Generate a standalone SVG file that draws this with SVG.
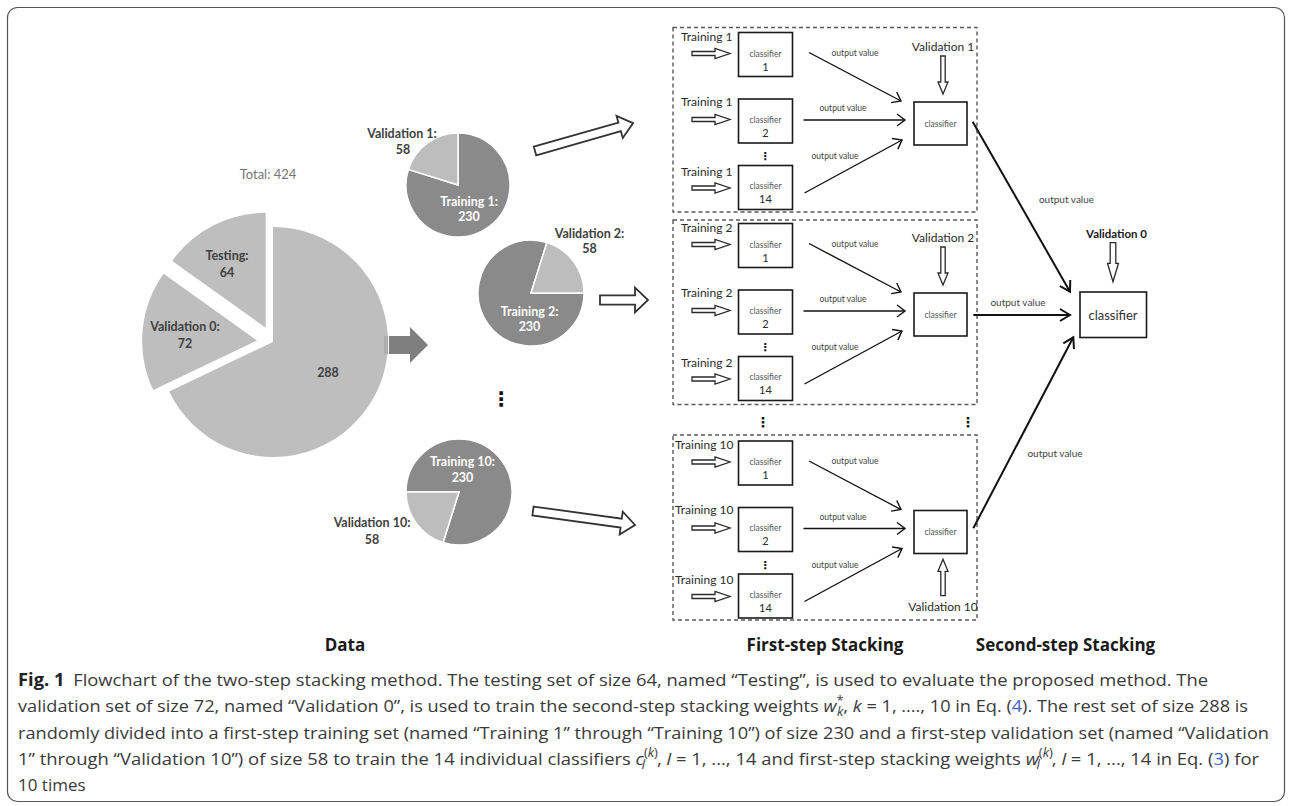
<svg xmlns="http://www.w3.org/2000/svg" width="1292" height="806" viewBox="0 0 1292 806">
<defs>
<style>
.t{font-family:Lato,"Liberation Sans",sans-serif}
.tr{font-size:12px;fill:#2b2b2b}
.cl{font-size:8.5px;fill:#555;text-anchor:middle}
.num{font-size:11px;fill:#2b2b2b;text-anchor:middle}
.ov{font-size:8.5px;fill:#444;text-anchor:middle}
.ov2{font-size:10px;fill:#444;text-anchor:middle}
.val{font-size:12px;fill:#2b2b2b;text-anchor:middle}
.box{fill:#fff;stroke:#1a1a1a;stroke-width:1.6}
.dash{fill:none;stroke:#5a5a5a;stroke-width:1.4;stroke-dasharray:4 3}
.ha{fill:#fff;stroke:#2a2a2a;stroke-width:1.3}
.hb{fill:#fff;stroke:#333;stroke-width:1.8}
.ln{fill:none;stroke:#111;stroke-width:1.4;marker-end:url(#v1)}
.ln2{fill:none;stroke:#111;stroke-width:2;marker-end:url(#v2)}
.pl{font-family:Lato,"Liberation Sans",sans-serif;font-weight:bold;font-size:12.5px;text-anchor:middle;fill:#404040}
.pw{font-family:Lato,"Liberation Sans",sans-serif;font-weight:bold;font-size:12.5px;text-anchor:middle;fill:#fff}
.dots{font-family:"DejaVu Sans",sans-serif;font-weight:bold;text-anchor:middle;fill:#111}
.cap{font-family:"Open Sans","Liberation Sans",sans-serif;font-size:17px;fill:#3a3a3a}
.hd{font-family:"Open Sans","Liberation Sans",sans-serif;font-size:17px;font-weight:bold;fill:#1a1a1a;text-anchor:middle}
.lt{fill:#bdbdbd;stroke:#fff;stroke-width:1.5}
.dk{fill:#8a8a8a;stroke:#fff;stroke-width:1.5}
</style>
<marker id="v1" markerUnits="userSpaceOnUse" viewBox="-10 -8 12 16" refX="0" refY="0" markerWidth="12" markerHeight="16" orient="auto"><path d="M-8,-6 L0,0 L-8,6" fill="none" stroke="#111" stroke-width="1.4"/></marker>
<marker id="v2" markerUnits="userSpaceOnUse" viewBox="-12 -8 14 16" refX="0" refY="0" markerWidth="14" markerHeight="16" orient="auto"><path d="M-10,-6 L0,0 L-10,6" fill="none" stroke="#111" stroke-width="2"/></marker>
<polygon id="sa" points="0,-2 23,-2 23,-5 38,0 23,5 23,2 0,2"/>
</defs>

<rect x="7.5" y="7.5" width="1277" height="794" rx="10" fill="#fff" stroke="#555" stroke-width="1.2"/>

<g id="total-pie">
<text class="t" x="268" y="178.5" font-size="13" fill="#777" text-anchor="middle">Total: 424</text>
<path d="M273,342 L273,227 A115,115 0 1 1 169.2,391.5 Z" fill="#bebebe"/>
<path d="M257.1,340.6 L153.3,390.1 A115,115 0 0 1 163.6,273.7 Z" fill="#bebebe"/>
<path d="M265.7,327.8 L172.2,260.9 A115,115 0 0 1 265.7,212.8 Z" fill="#bebebe"/>
<text class="pl" x="227" y="259.5">Testing:</text>
<text class="pl" x="227" y="276.5">64</text>
<text class="pl" x="185" y="330.5">Validation 0:</text>
<text class="pl" x="185" y="347.5">72</text>
<text class="pl" x="328" y="377" font-size="15">288</text>
</g>

<g id="split-arrow">
<rect x="384.5" y="336" width="1.2" height="18" fill="#a0a0a0"/>
<rect x="386.8" y="336" width="1.2" height="18" fill="#a0a0a0"/>
<polygon points="389,336 410,336 410,327 428,345 410,363 410,354 389,354" fill="#7f7f7f"/>
</g>

<g id="pie1">
<path class="dk" d="M458,185 L458,133 A52,52 0 1 1 408.4,169.4 Z"/>
<path class="lt" d="M458,185 L408.4,169.4 A52,52 0 0 1 458,133 Z"/>
<text class="pl" x="402" y="137.5">Validation 1:</text>
<text class="pl" x="403" y="153.5">58</text>
<text class="pw" x="469" y="206">Training 1:</text>
<text class="pw" x="469" y="221">230</text>
</g>

<g id="pie2">
<path class="dk" d="M531,293 L584,293 A53,53 0 1 1 546.9,242.5 Z"/>
<path class="lt" d="M531,293 L546.9,242.5 A53,53 0 0 1 584,293 Z"/>
<text class="pl" x="589.5" y="237.5">Validation 2:</text>
<text class="pl" x="589.5" y="252.5">58</text>
<text class="pw" x="529.5" y="316">Training 2:</text>
<text class="pw" x="529.5" y="331">230</text>
</g>

<text class="dots" x="501" y="406" font-size="20">⋮</text>

<g id="pie10">
<path class="dk" d="M459,492 L406,492 A53,53 0 1 1 443.1,542.5 Z"/>
<path class="lt" d="M459,492 L443.1,542.5 A53,53 0 0 1 406,492 Z"/>
<text class="pw" x="462.5" y="466">Training 10:</text>
<text class="pw" x="462.5" y="482">230</text>
<text class="pl" x="372" y="527">Validation 10:</text>
<text class="pl" x="372" y="543.5">58</text>
</g>

<g id="pie-arrows">
<polygon class="hb" transform="translate(535,151) rotate(-15.9)" points="0,-4.5 88,-4.5 88,-11.5 102,0 88,11.5 88,4.5 0,4.5"/>
<polygon class="hb" transform="translate(600,300)" points="0,-4.6 35,-4.6 35,-12.5 48,0 35,12.5 35,4.6 0,4.6"/>
<polygon class="hb" transform="translate(533,511) rotate(7.8)" points="0,-4.5 89,-4.5 89,-11.5 103,0 89,11.5 89,4.5 0,4.5"/>
</g>

<!-- First-step stacking block 1 -->
<g id="stack1">
<rect class="dash" x="673" y="27.5" width="304" height="184.5"/>
<text class="t tr" x="681" y="40.5">Training 1</text>
<text class="t tr" x="681" y="105.5">Training 1</text>
<text class="t tr" x="681" y="175.5">Training 1</text>
<use href="#sa" class="ha" x="692" y="53.5"/>
<use href="#sa" class="ha" x="692" y="119.5"/>
<use href="#sa" class="ha" x="692" y="188"/>
<g id="s1-c1"><rect class="box" x="738.5" y="32.5" width="54" height="44"/><text class="t cl" x="765.5" y="56.5">classifier</text><text class="t num" x="765.5" y="70.5">1</text></g>
<g id="s1-c2"><rect class="box" x="738.5" y="99" width="54" height="44"/><text class="t cl" x="765.5" y="122.5">classifier</text><text class="t num" x="765.5" y="136.5">2</text></g>
<text class="dots" x="765" y="160" font-size="11">⋮</text>
<g id="s1-c14"><rect class="box" x="738.5" y="165.5" width="54" height="44"/><text class="t cl" x="765.5" y="189">classifier</text><text class="t num" x="765.5" y="203">14</text></g>
<text class="t val" x="943" y="50.5">Validation 1</text>
<polygon class="ha" transform="translate(943,56)" points="-2.2,0 2.2,0 2.2,26 5,26 0,38 -5,26 -2.2,26"/>
<g id="s1-meta"><rect class="box" x="914" y="102" width="53" height="43"/><text class="t cl" x="940.5" y="126.5">classifier</text></g>
<text class="t ov" x="855" y="55.5">output value</text>
<text class="t ov" x="843" y="111">output value</text>
<text class="t ov" x="835" y="159">output value</text>
</g>

<g id="stack2" transform="translate(0,191)">
<rect class="dash" x="673" y="29" width="304" height="184.5"/>
<text class="t tr" x="681" y="40.5">Training 2</text>
<text class="t tr" x="681" y="105.5">Training 2</text>
<text class="t tr" x="681" y="175.5">Training 2</text>
<use href="#sa" class="ha" x="692" y="53.5"/>
<use href="#sa" class="ha" x="692" y="119.5"/>
<use href="#sa" class="ha" x="692" y="188"/>
<g id="s2-c1"><rect class="box" x="738.5" y="32.5" width="54" height="44"/><text class="t cl" x="765.5" y="56.5">classifier</text><text class="t num" x="765.5" y="70.5">1</text></g>
<g id="s2-c2"><rect class="box" x="738.5" y="99" width="54" height="44"/><text class="t cl" x="765.5" y="122.5">classifier</text><text class="t num" x="765.5" y="136.5">2</text></g>
<text class="dots" x="765" y="160" font-size="11">⋮</text>
<g id="s2-c14"><rect class="box" x="738.5" y="165.5" width="54" height="44"/><text class="t cl" x="765.5" y="189">classifier</text><text class="t num" x="765.5" y="203">14</text></g>
<text class="t val" x="943" y="50.5">Validation 2</text>
<polygon class="ha" transform="translate(943,56)" points="-2.2,0 2.2,0 2.2,26 5,26 0,38 -5,26 -2.2,26"/>
<g id="s2-meta"><rect class="box" x="914" y="102" width="53" height="43"/><text class="t cl" x="940.5" y="126.5">classifier</text></g>
<text class="t ov" x="855" y="55.5">output value</text>
<text class="t ov" x="843" y="111">output value</text>
<text class="t ov" x="835" y="159">output value</text>
</g>

<text class="dots" x="763" y="427" font-size="14">⋮</text>
<text class="dots" x="968" y="427" font-size="14">⋮</text>

<g id="stack10" transform="translate(0,408.5)">
<rect class="dash" x="673" y="26.5" width="304" height="185"/>
<text class="t tr" x="675" y="40.5">Training 10</text>
<text class="t tr" x="675" y="105.5">Training 10</text>
<text class="t tr" x="675" y="175.5">Training 10</text>
<use href="#sa" class="ha" x="692" y="53.5"/>
<use href="#sa" class="ha" x="692" y="119.5"/>
<use href="#sa" class="ha" x="692" y="188"/>
<g id="s10-c1"><rect class="box" x="738.5" y="32.5" width="54" height="44"/><text class="t cl" x="765.5" y="56.5">classifier</text><text class="t num" x="765.5" y="70.5">1</text></g>
<g id="s10-c2"><rect class="box" x="738.5" y="99" width="54" height="44"/><text class="t cl" x="765.5" y="122.5">classifier</text><text class="t num" x="765.5" y="136.5">2</text></g>
<text class="dots" x="765" y="160" font-size="11">⋮</text>
<g id="s10-c14"><rect class="box" x="738.5" y="165.5" width="54" height="44"/><text class="t cl" x="765.5" y="189">classifier</text><text class="t num" x="765.5" y="203">14</text></g>
<text class="t val" x="943" y="202">Validation 10</text>
<polygon class="ha" transform="translate(943,150.8)" points="0,0 5,12 2.2,12 2.2,36.4 -2.2,36.4 -2.2,12 -5,12"/>
<g id="s10-meta"><rect class="box" x="914" y="102" width="53" height="43"/><text class="t cl" x="940.5" y="126.5">classifier</text></g>
<text class="t ov" x="855" y="55.5">output value</text>
<text class="t ov" x="843" y="111">output value</text>
<text class="t ov" x="835" y="159">output value</text>
</g>

<g id="final">
<text class="t" x="1116.5" y="237.5" font-size="11.5" font-weight="bold" fill="#1a1a1a" text-anchor="middle">Validation 0</text>
<polygon class="ha" transform="translate(1113,242.7)" points="-2.8,0 2.8,0 2.8,20.6 5.5,20.6 0,39 -5.5,20.6 -2.8,20.6"/>
<rect class="box" x="1080" y="292" width="66.5" height="45.5"/>
<text class="t" x="1113" y="319.5" font-size="13" fill="#333" text-anchor="middle">classifier</text>
<text class="t ov2" x="1066.5" y="202.5">output value</text>
<text class="t ov2" x="1018" y="306">output value</text>
<text class="t ov2" x="1055" y="457">output value</text>
</g>

<g id="connectors">
<g>
<line class="ln" x1="809" y1="52.5" x2="901" y2="101"/>
<line class="ln" x1="803.5" y1="120" x2="905" y2="120"/>
<line class="ln" x1="804.5" y1="193" x2="902" y2="140"/>
</g>
<g transform="translate(0,191)">
<line class="ln" x1="809" y1="52.5" x2="901" y2="101"/>
<line class="ln" x1="803.5" y1="120" x2="905" y2="120"/>
<line class="ln" x1="804.5" y1="193" x2="902" y2="140"/>
</g>
<g transform="translate(0,408.5)">
<line class="ln" x1="809" y1="52.5" x2="901" y2="101"/>
<line class="ln" x1="803.5" y1="120" x2="905" y2="120"/>
<line class="ln" x1="804.5" y1="193" x2="902" y2="140"/>
</g>
<line class="ln2" x1="972.7" y1="121.7" x2="1070" y2="291.7"/>
<line class="ln2" x1="973.3" y1="315" x2="1070" y2="315"/>
<line class="ln2" x1="973.3" y1="528.3" x2="1073.3" y2="337.3"/>
</g>

<g id="headings">
<text class="hd" x="345" y="651">Data</text>
<text class="hd" x="825" y="651">First-step Stacking</text>
<text class="hd" x="1065.5" y="651">Second-step Stacking</text>
</g>

<g id="caption">
<text class="cap" x="18" y="686" textLength="1190" lengthAdjust="spacingAndGlyphs"><tspan font-weight="bold" fill="#222">Fig. 1</tspan><tspan dx="8">Flowchart of the two-step stacking method. The testing set of size 64, named “Testing”, is used to evaluate the proposed method. The</tspan></text>
<text class="cap" x="18" y="712" textLength="1230" lengthAdjust="spacingAndGlyphs">validation set of size 72, named “Validation 0”, is used to train the second-step stacking weights <tspan font-style="italic">w</tspan><tspan font-size="12" dy="-7">*</tspan><tspan font-size="12" font-style="italic" dx="-6" dy="11">k</tspan><tspan dy="-4">, </tspan><tspan font-style="italic">k</tspan> = 1, ...., 10 in Eq. (<tspan fill="#3d63c9">4</tspan>). The rest set of size 288 is</text>
<text class="cap" x="18" y="738.5" textLength="1251" lengthAdjust="spacingAndGlyphs">randomly divided into a first-step training set (named “Training 1” through “Training 10”) of size 230 and a first-step validation set (named “Validation</text>
<text class="cap" x="18" y="764.5" textLength="1241" lengthAdjust="spacingAndGlyphs">1” through “Validation 10”) of size 58 to train the 14 individual classifiers <tspan font-style="italic">c</tspan><tspan font-size="12" dy="-8">(</tspan><tspan font-size="12" font-style="italic">k</tspan><tspan font-size="12">)</tspan><tspan font-size="12" font-style="italic" dx="-15" dy="12">l</tspan><tspan dx="11" dy="-4">, </tspan><tspan font-style="italic">l</tspan> = 1, ..., 14 and first-step stacking weights <tspan font-style="italic">w</tspan><tspan font-size="12" dy="-8">(</tspan><tspan font-size="12" font-style="italic">k</tspan><tspan font-size="12">)</tspan><tspan font-size="12" font-style="italic" dx="-15" dy="12">l</tspan><tspan dx="11" dy="-4">, </tspan><tspan font-style="italic">l</tspan> = 1, ..., 14 in Eq. (<tspan fill="#3d63c9">3</tspan>) for</text>
<text class="cap" x="18" y="791">10 times</text>
</g>
</svg>
